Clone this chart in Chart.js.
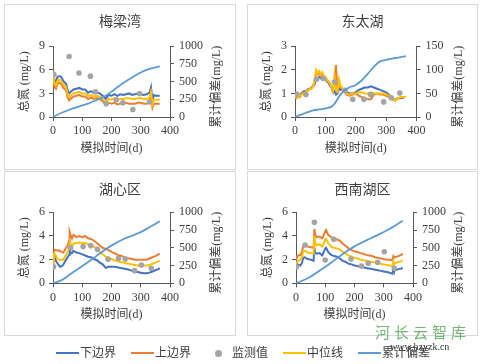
<!DOCTYPE html>
<html>
<head>
<meta charset="utf-8">
<script src="https://cdn.jsdelivr.net/npm/chart.js"></script>
<style>
  body { margin:0; width:484px; height:364px; background:#fff; position:relative; overflow:hidden;
         font-family:'Liberation Serif','Noto Sans CJK SC',serif; color:#404040; }
  .box { position:absolute; border:1px solid #d9d9d9; box-sizing:border-box; }
  canvas { position:absolute; }
  .lg-line { position:absolute; height:2px; width:23px; }
  .lg-dot { position:absolute; width:7px; height:7px; border-radius:50%; background:#A5A5A5; }
  .lg-text { position:absolute; font-size:12px; line-height:14px; color:#404040; }
  .wm1 { position:absolute; left:375px; top:323px; font-size:15px; letter-spacing:4px; color:rgba(80,165,80,0.8);
         font-family:'Noto Sans CJK SC',sans-serif; line-height:18px; }
  .wm2 { position:absolute; left:390px; top:341px; font-size:10px; color:#333; line-height:12px; }
</style>
</head>
<body>

<div class="box" style="left:4px;top:4px;width:232px;height:166px"></div>
<div class="box" style="left:247px;top:4px;width:231px;height:166px"></div>
<div class="box" style="left:4px;top:171px;width:232px;height:165px"></div>
<div class="box" style="left:247px;top:171px;width:231px;height:165px"></div>

<canvas id="c1" width="232" height="166" style="left:4px;top:4px"></canvas>
<canvas id="c2" width="231" height="166" style="left:247px;top:4px"></canvas>
<canvas id="c3" width="232" height="165" style="left:4px;top:171px"></canvas>
<canvas id="c4" width="231" height="165" style="left:247px;top:171px"></canvas>

<!-- legenda comum -->
<div class="lg-line" style="left:56px;top:352px;background:#4472C4"></div>
<div class="lg-text" style="left:80px;top:346px">下边界</div>
<div class="lg-line" style="left:131px;top:352px;background:#ED7D31"></div>
<div class="lg-text" style="left:155px;top:346px">上边界</div>
<div class="lg-dot" style="left:215px;top:350px"></div>
<div class="lg-text" style="left:232px;top:346px">监测值</div>
<div class="lg-line" style="left:283px;top:352px;background:#FFC000"></div>
<div class="lg-text" style="left:307px;top:346px">中位线</div>
<div class="lg-line" style="left:358px;top:352px;background:#5B9BD5"></div>
<div class="lg-text" style="left:382px;top:346px">累计偏差</div>

<div class="wm1">河长云智库</div>
<div class="wm2">www.hzyzk.cn</div>

<script>
// ---- 梅梁湾 ----
const P1_DAYS = [0,5,10,15,20,25,30,35,40,45,50,55,60,70,80,90,100,110,120,130,140,150,160,170,180,190,200,210,220,230,240,250,260,270,280,290,300,310,320,330,335,340,345,350,360,365];
const P1_LOWER = [6.0,4.6,4.5,5.1,5.2,5.2,5.0,4.6,4.4,4.2,3.4,3.0,3.2,3.5,3.6,3.7,3.5,3.5,3.1,3.3,3.0,3.1,3.0,2.7,2.3,2.8,2.7,2.9,2.7,2.9,2.8,2.9,3.0,2.8,2.9,3.0,2.9,2.8,2.9,3.1,3.8,2.1,2.8,2.7,2.7,2.7];
const P1_MEDIAN = [5.8,4.2,4.0,4.6,4.8,4.7,4.5,4.1,4.0,3.8,2.9,2.5,2.7,3.0,3.1,3.2,3.0,3.0,2.7,2.8,2.6,2.7,2.6,2.3,1.9,2.3,2.2,2.4,2.2,2.3,2.3,2.4,2.4,2.3,2.3,2.4,2.4,2.3,2.3,2.5,3.2,1.6,2.2,2.2,2.2,2.2];
const P1_UPPER = [5.6,3.8,3.6,4.2,4.4,4.3,4.1,3.7,3.6,3.4,2.5,2.1,2.3,2.6,2.7,2.8,2.6,2.6,2.3,2.5,2.3,2.4,2.3,2.0,1.6,1.8,1.7,1.8,1.6,1.7,1.7,1.8,1.7,1.7,1.7,1.8,1.8,1.7,1.7,1.9,2.7,1.2,1.7,1.7,1.7,1.7];
const P1_OBS_DAYS = [3,55,89,128,145,182,216,239,273,296,330];
const P1_OBS = [5.4,7.7,5.6,5.2,3.2,1.7,2.2,1.8,0.95,3.0,1.9];
const P1_CUM_DAYS = [0,30,60,90,120,150,180,210,240,270,300,330,365];
const P1_CUM = [0,60,110,150,190,240,300,390,480,560,630,680,715];

// ---- 东太湖 ----
const P2_DAYS = [0,5,10,15,20,25,30,35,40,45,50,55,60,65,70,75,80,85,90,95,100,105,110,115,120,125,130,135,140,145,150,155,160,170,180,190,200,210,220,230,240,250,260,270,280,290,300,310,320,330,340,350,360,365];
const P2_LOWER = [0.9,0.85,0.95,0.9,1.0,1.05,1.1,1.05,1.15,1.2,1.2,1.25,1.3,1.4,1.6,1.65,1.7,1.65,1.7,1.6,1.65,1.5,1.45,1.35,1.25,1.05,1.1,0.95,1.0,1.2,1.15,1.2,1.1,1.05,1.0,1.0,1.05,1.15,1.2,1.25,1.25,1.3,1.25,1.2,1.15,1.1,1.05,0.95,0.8,0.75,0.8,0.8,0.85,0.85];
const P2_MEDIAN = [0.8,0.9,0.85,0.95,0.9,1.0,0.95,1.05,1.1,1.15,1.2,1.2,1.3,1.6,2.0,1.85,1.95,1.8,1.9,1.75,1.7,1.6,1.5,1.45,1.3,1.1,1.75,1.15,1.1,1.6,1.3,1.25,1.15,1.0,0.95,1.0,1.0,1.05,1.05,1.0,1.0,1.05,1.0,1.0,1.0,1.0,0.95,0.9,0.85,0.7,0.8,0.85,0.85,0.85];
const P2_UPPER = [0.85,0.8,0.9,0.85,0.95,1.0,1.05,1.0,1.1,1.15,1.2,1.25,1.35,1.5,1.9,1.8,1.85,1.75,1.8,1.7,1.65,1.55,1.5,1.4,1.3,1.2,1.5,2.2,1.0,1.5,1.25,1.2,1.1,0.95,0.9,0.95,1.0,0.9,0.85,0.8,0.75,0.75,0.95,1.0,0.95,0.95,0.9,0.85,0.75,0.7,0.8,0.85,0.85,0.85];
const P2_OBS_DAYS = [5,36,71,93,130,165,190,227,249,292,317,345];
const P2_OBS = [0.97,0.95,1.6,1.63,1.48,1.13,0.75,0.75,0.95,0.64,0.82,1.02];
const P2_CUM_DAYS = [0,20,40,60,80,100,120,130,140,150,160,180,200,220,240,260,280,300,320,340,365];
const P2_CUM = [0,5,10,14,16,18,22,28,38,48,55,63,68,78,92,107,118,121,124,126,129];

// ---- 湖心区 ----
const P3_DAYS = [0,3,5,10,15,20,25,30,35,40,45,50,55,57,60,65,70,80,90,100,110,120,130,140,150,160,170,180,190,200,210,220,230,240,250,260,270,280,290,300,310,320,330,340,350,360,365];
const P3_LOWER = [1.4,2.2,2.3,1.9,1.7,1.5,1.4,1.45,1.55,1.8,2.0,2.2,2.4,3.0,2.5,2.55,2.75,2.6,2.55,2.45,2.35,2.25,2.2,2.05,1.95,1.75,1.6,1.3,1.4,1.4,1.4,1.35,1.3,1.25,1.2,1.15,1.05,1.0,0.95,0.9,0.85,0.85,0.9,1.0,1.1,1.2,1.3];
const P3_MEDIAN = [1.5,2.4,2.5,2.3,2.1,2.0,1.95,2.0,2.0,2.2,2.4,2.6,3.0,3.75,3.3,3.1,3.35,3.4,3.45,3.4,3.4,3.3,3.2,3.1,2.9,2.65,2.45,2.25,2.2,2.05,1.95,1.85,1.8,1.75,1.7,1.65,1.6,1.55,1.5,1.5,1.5,1.5,1.55,1.65,1.75,1.85,1.9];
const P3_UPPER = [1.8,2.6,2.85,2.8,2.75,2.8,2.7,2.65,2.6,2.8,3.0,3.2,3.6,4.35,4.1,3.8,4.1,3.9,4.0,3.9,4.0,3.8,3.75,3.6,3.4,3.2,3.0,2.9,2.8,2.65,2.55,2.4,2.35,2.25,2.15,2.1,2.05,2.0,2.0,2.0,2.0,2.0,2.1,2.2,2.3,2.45,2.5];
const P3_OBS_DAYS = [2,60,103,129,152,188,224,247,279,302,336];
const P3_OBS = [1.4,3.0,3.1,3.18,2.87,2.03,2.11,2.06,1.07,1.55,1.27];
const P3_CUM_DAYS = [0,30,60,90,120,150,180,210,240,270,300,330,365];
const P3_CUM = [0,45,130,215,300,390,480,555,620,670,720,790,875];

// ---- 西南湖区 ----
const P4_DAYS = [0,5,10,15,20,25,30,40,50,60,63,65,70,80,90,100,103,110,120,130,140,150,160,170,180,190,200,210,220,230,240,250,260,270,280,290,300,310,320,330,333,335,340,345,350,360,365];
const P4_LOWER = [1.3,1.6,1.55,1.5,1.7,2.15,2.2,2.05,2.0,1.9,3.0,2.6,2.5,2.55,2.35,2.95,3.0,2.65,2.4,2.3,2.25,2.1,1.9,1.8,1.65,1.6,1.5,1.45,1.4,1.35,1.3,1.25,1.2,1.15,1.1,1.05,1.0,0.95,0.9,0.8,1.3,1.15,1.1,1.15,1.2,1.25,1.3];
const P4_MEDIAN = [1.6,1.85,1.9,2.0,2.2,2.7,2.75,2.6,2.55,2.5,4.0,3.5,3.2,3.3,3.1,3.7,3.75,3.4,3.1,3.0,2.95,2.85,2.65,2.5,2.35,2.25,2.15,2.1,2.0,1.95,1.9,1.85,1.8,1.75,1.7,1.65,1.6,1.55,1.5,1.45,1.85,1.75,1.7,1.75,1.8,1.85,1.95];
const P4_UPPER = [2.0,2.3,2.35,2.4,2.6,3.2,3.3,3.1,3.05,3.0,4.6,4.2,3.9,3.95,3.8,4.4,4.5,4.1,3.9,3.8,3.7,3.6,3.35,3.15,2.95,2.8,2.7,2.65,2.55,2.5,2.4,2.35,2.3,2.2,2.15,2.1,2.05,2.0,2.0,1.95,2.3,2.25,2.2,2.25,2.3,2.4,2.5];
const P4_OBS_DAYS = [2,31,63,100,129,188,224,247,279,302,336];
const P4_OBS = [1.4,3.24,5.15,1.97,3.72,2.05,1.46,1.69,1.77,2.67,1.27];
const P4_CUM_DAYS = [0,40,85,120,155,200,256,313,365];
const P4_CUM = [0,70,190,290,400,520,634,750,880];

const X_TICKS_MAX = 400;
const LEFT_AXIS_TITLE = '总氮 (mg/L)';
const RIGHT_AXIS_TITLE = '累计偏差(mg/L)';
const X_AXIS_TITLE = '模拟时间(d)';

const FONT = "'Liberation Serif', 'Noto Sans CJK SC', serif";
const TXT = '#404040';
const AXIS = '#595959';

function pts(days, vals) {
    return days.map((d, i) => ({ x: d, y: vals[i] }));
}

// titulo do eixo direito, lido de baixo para cima
const rightTitlePlugin = {
    id: 'rightTitle',
    afterDraw(chart) {
        const { ctx, chartArea } = chart;
        ctx.save();
        ctx.translate(chart.width - 19, (chartArea.top + chartArea.bottom) / 2 + 5);
        ctx.rotate(-Math.PI / 2);
        ctx.font = `12px ${FONT}`;
        ctx.fillStyle = TXT;
        ctx.textAlign = 'center';
        ctx.textBaseline = 'middle';
        ctx.fillText(RIGHT_AXIS_TITLE, 0, 0);
        ctx.restore();
    }
};

function makePanel(p) {
    const tickFont = { family: FONT, size: 12 };
    const plain = v => String(v);
    const axisCommon = {
        grid: { drawOnChartArea: false, tickLength: 4, color: AXIS },
        border: { color: AXIS, width: 1 }
    };
    new Chart(document.getElementById(p.id).getContext('2d'), {
        type: 'line',
        data: {
            datasets: [
                { label: '累计偏差', data: pts(p.cumDays, p.cum), yAxisID: 'y2', borderColor: '#5B9BD5', borderWidth: 1.8,
                  pointRadius: 0, cubicInterpolationMode: 'monotone', order: 0 },
                { label: '监测值', data: pts(p.obsDays, p.obs), yAxisID: 'y', showLine: false, pointRadius: 2.8,
                  pointBackgroundColor: '#A5A5A5', pointBorderWidth: 0, borderColor: '#A5A5A5', order: 1 },
                { label: '中位线', data: pts(p.days, p.median), yAxisID: 'y', borderColor: '#FFC000', borderWidth: 2,
                  pointRadius: 0, order: 2 },
                { label: '上边界', data: pts(p.days, p.upper), yAxisID: 'y', borderColor: '#ED7D31', borderWidth: 2,
                  pointRadius: 0, order: 3 },
                { label: '下边界', data: pts(p.days, p.lower), yAxisID: 'y', borderColor: '#4472C4', borderWidth: 2,
                  pointRadius: 0, order: 4 }
            ]
        },
        options: {
            responsive: false,
            animation: false,
            devicePixelRatio: 1,
            layout: { padding: 0 },
            plugins: {
                legend: { display: false },
                tooltip: { enabled: false },
                title: { display: true, text: p.title, color: TXT, font: { family: FONT, size: 14, weight: 'normal' },
                         padding: { top: p.titleTop, bottom: p.titleBottom } }
            },
            scales: {
                x: { type: 'linear', min: 0, max: X_TICKS_MAX, ...axisCommon,
                     ticks: { stepSize: 100, padding: 3, color: TXT, font: tickFont, maxRotation: 0, callback: plain },
                     title: { display: true, text: X_AXIS_TITLE, color: TXT, font: { family: FONT, size: 12 }, padding: { top: 0, bottom: 14 } },
                     afterFit: s => { s.height = p.xH; } },
                y: { position: 'left', min: 0, max: p.yMax, ...axisCommon,
                     ticks: { stepSize: p.yStep, padding: 4, color: TXT, font: tickFont, callback: plain },
                     title: { display: true, text: LEFT_AXIS_TITLE, color: TXT, font: { family: FONT, size: 12 }, padding: { top: p.leftTitlePad, bottom: 0 } },
                     afterFit: s => { s.width = p.leftW; } },
                y2: { position: 'right', min: 0, max: p.rMax, ...axisCommon,
                      ticks: { stepSize: p.rStep, padding: 5, color: TXT, font: tickFont, callback: plain },
                      afterFit: s => { s.width = p.rightW; } }
            }
        },
        plugins: [rightTitlePlugin]
    });
}

makePanel({ id: 'c1', title: '梅梁湾', days: P1_DAYS, lower: P1_LOWER, median: P1_MEDIAN, upper: P1_UPPER,
            obsDays: P1_OBS_DAYS, obs: P1_OBS, cumDays: P1_CUM_DAYS, cum: P1_CUM,
            yMax: 9, yStep: 3, rMax: 1000, rStep: 250, leftW: 49, rightW: 66, xH: 53,
            titleTop: 10, titleBottom: 15.5, leftTitlePad: 13.8 });
makePanel({ id: 'c2', title: '东太湖', days: P2_DAYS, lower: P2_LOWER, median: P2_MEDIAN, upper: P2_UPPER,
            obsDays: P2_OBS_DAYS, obs: P2_OBS, cumDays: P2_CUM_DAYS, cum: P2_CUM,
            yMax: 3, yStep: 1, rMax: 150, rStep: 50, leftW: 48, rightW: 61.5, xH: 53,
            titleTop: 10, titleBottom: 15.5, leftTitlePad: 12.8 });
makePanel({ id: 'c3', title: '湖心区', days: P3_DAYS, lower: P3_LOWER, median: P3_MEDIAN, upper: P3_UPPER,
            obsDays: P3_OBS_DAYS, obs: P3_OBS, cumDays: P3_CUM_DAYS, cum: P3_CUM,
            yMax: 6, yStep: 2, rMax: 1000, rStep: 250, leftW: 49, rightW: 66, xH: 52.7,
            titleTop: 10.5, titleBottom: 14, leftTitlePad: 13.8 });
makePanel({ id: 'c4', title: '西南湖区', days: P4_DAYS, lower: P4_LOWER, median: P4_MEDIAN, upper: P4_UPPER,
            obsDays: P4_OBS_DAYS, obs: P4_OBS, cumDays: P4_CUM_DAYS, cum: P4_CUM,
            yMax: 6, yStep: 2, rMax: 1000, rStep: 250, leftW: 49, rightW: 65, xH: 52.7,
            titleTop: 10.5, titleBottom: 14, leftTitlePad: 13.8 });
</script>
</body>
</html>
